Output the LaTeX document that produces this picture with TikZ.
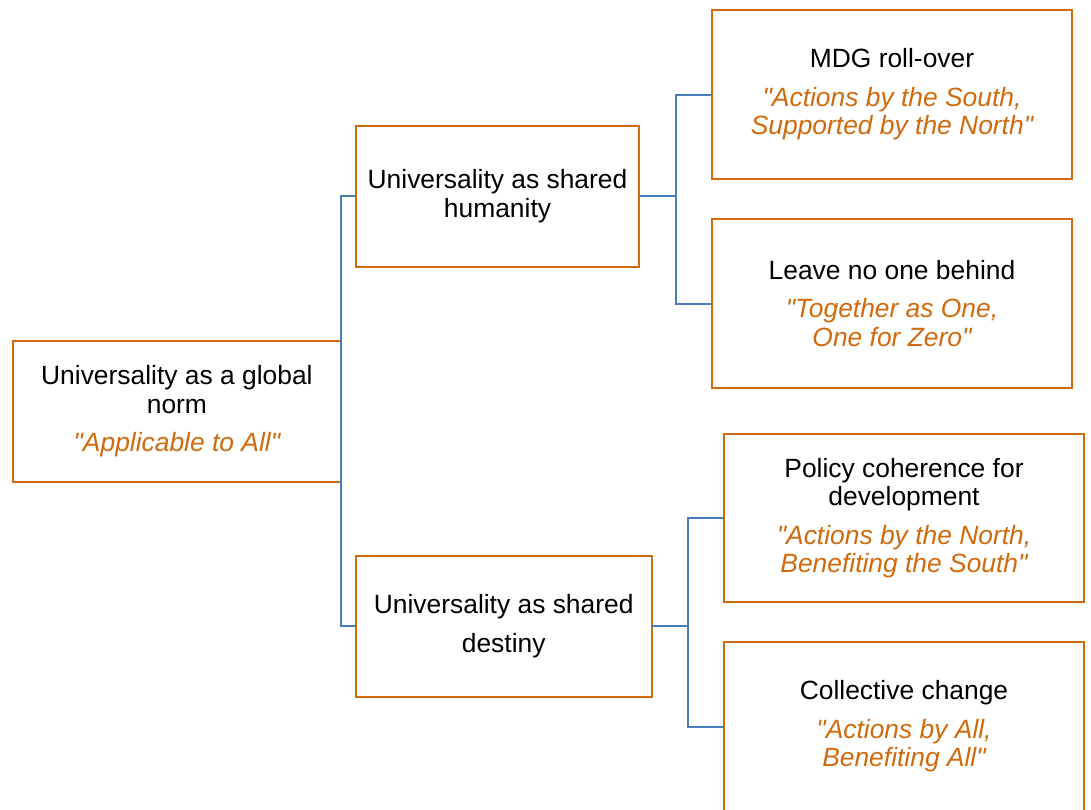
\documentclass[tikz,border=0pt]{standalone}
\usepackage{fontspec}
\setmainfont{Liberation Sans}[Ligatures=TeXOff]
\definecolor{boxorange}{RGB}{209,106,12}
\definecolor{linkblue}{RGB}{74,126,187}
\newcommand{\quo}[1]{{\color{boxorange}\itshape #1}}

\begin{document}
\begin{tikzpicture}[x=0.5pt,y=-0.5pt,
	box/.style={draw=boxorange,line width=1.15pt,fill=white,align=center,
		inner sep=0pt,outer sep=0pt,font=\fontsize{13.2}{14.25}\selectfont},
	link/.style={draw=linkblue,line width=1pt}]
		\useasboundingbox (0,0) rectangle (1091,809);
		\node[box,minimum width=164.2pt,minimum height=70.5pt](n1) at (176.9,411.2) {Universality as a global\\norm\\[5pt]\quo{"Applicable to All"}};
		\node[box,minimum width=141.8pt,minimum height=70.5pt](n2) at (497.5,196.2) {Universality as shared\\humanity};
		\node[box,minimum width=148pt,minimum height=70.5pt](n3) at (503.7,626.2) {Universality as shared\\[5pt]destiny};
		\node[box,minimum width=180.3pt,minimum height=84.5pt](n4) at (892,94.5) {MDG roll-over\\[5pt]\quo{"Actions by the South,}\\\quo{Supported by the North"}};
		\node[box,minimum width=180.3pt,minimum height=84.5pt](n5) at (892,303.5) {Leave no one behind\\[5pt]\quo{"Together as One,}\\\quo{One for Zero"}};
		\node[box,minimum width=180pt,minimum height=84pt](n6) at (904,518) {Policy coherence for\\development\\[5pt]\quo{"Actions by the North,}\\\quo{Benefiting the South"}};
		\node[box,minimum width=180pt,minimum height=84.5pt](n7) at (904,726.5) {Collective change\\[5pt]\quo{"Actions by All,}\\\quo{Benefiting All"}};
		\coordinate (f2) at (675.5,196.2);
		\coordinate (f3) at (687.8,626.2);
		\draw[link] (n2.west) -| (n1.east) |- (n3.west);
		\draw[link] (n2.east) -- (f2);
		\draw[link] (n4.west) -| (f2) |- (n5.west);
		\draw[link] (n3.east) -- (f3);
		\draw[link] (n6.west) -| (f3) |- (n7.west);
\end{tikzpicture}
\end{document}
